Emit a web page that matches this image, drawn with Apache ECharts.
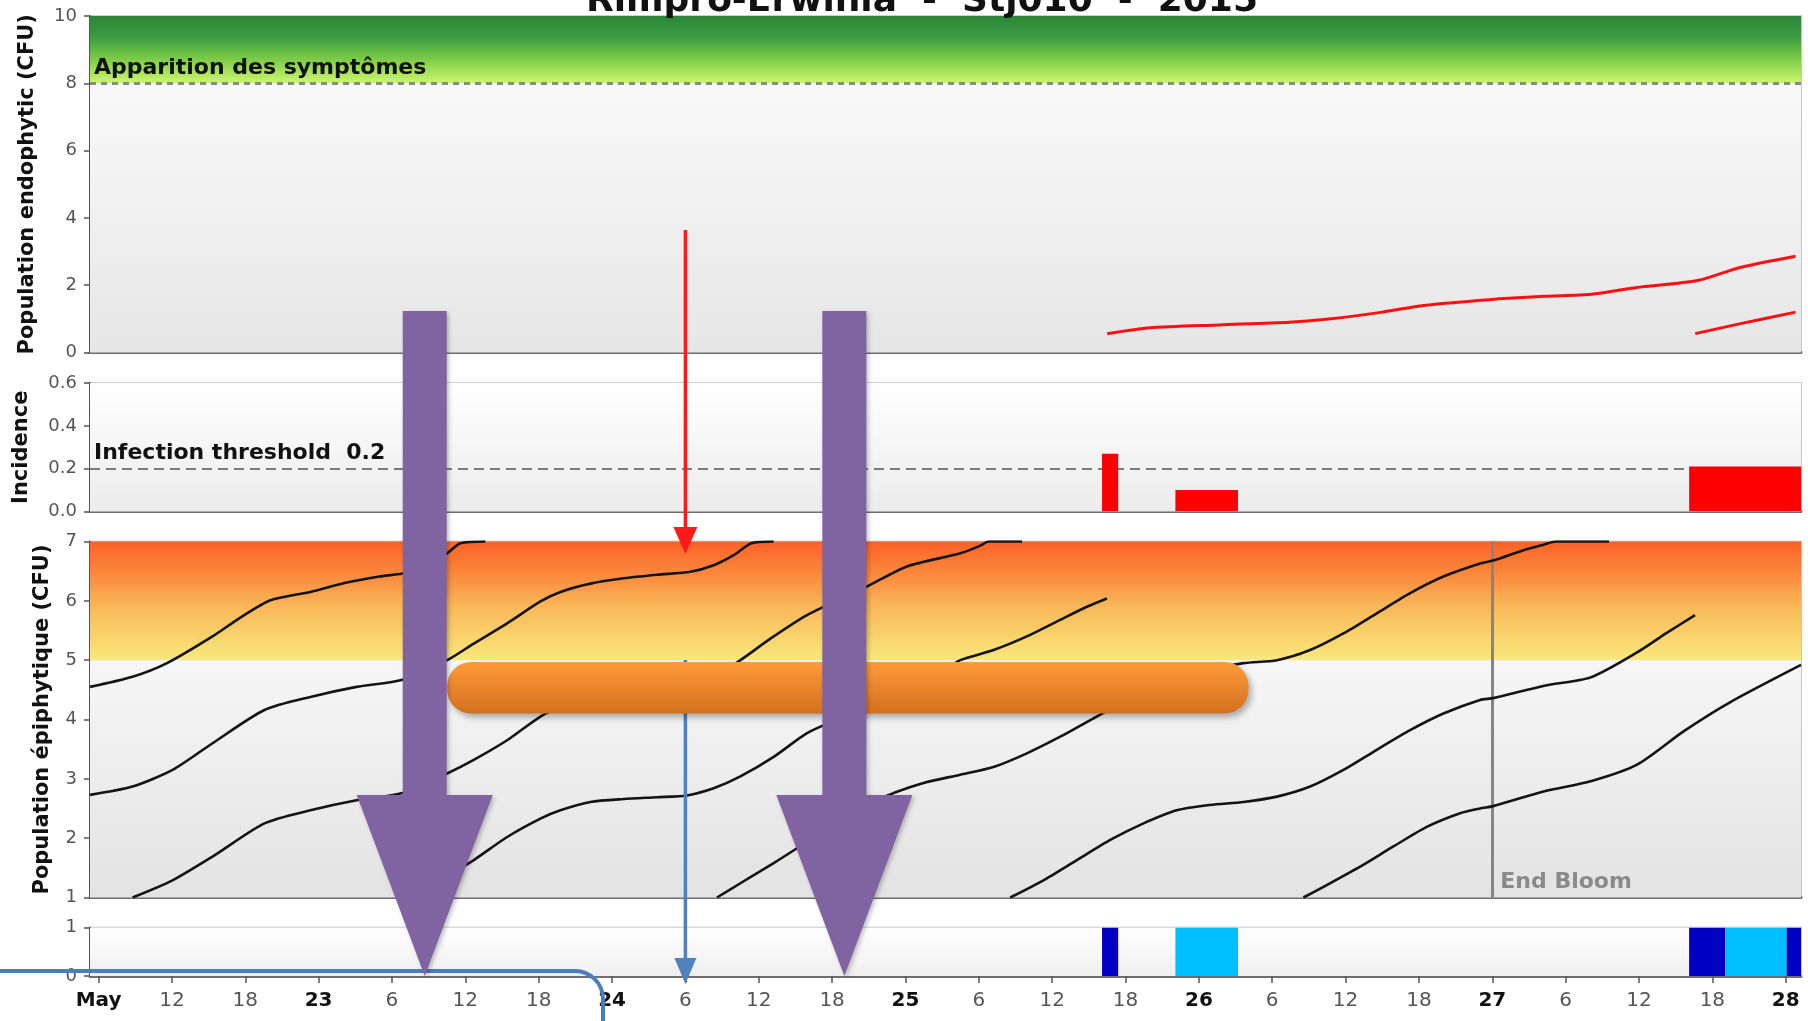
<!DOCTYPE html>
<html><head><meta charset="utf-8">
<script src="https://cdn.jsdelivr.net/npm/echarts@6/dist/echarts.min.js"></script>
<style>html,body{margin:0;padding:0;background:#fff;overflow:hidden}#c{width:1808px;height:1021px}</style>
</head><body><div id="c"></div>
<script>
// x values are hours counted from 22 May 00:00
const xMin = 5.3, xMax = 145.25;
const tickHours = [6,12,18,24,30,36,42,48,54,60,66,72,78,84,90,96,102,108,114,120,126,132,138,144];
const tickLabels = ['May','12','18','23','6','12','18','24','6','12','18','25','6','12','18','26','6','12','18','27','6','12','18','28'];

// Population endophytic (CFU)
const endoA = [[88.5,0.56],[92.0,0.735],[97.7,0.82],[103.4,0.90],[106.8,1.0],[111.0,1.2],[114.4,1.4],[119.7,1.57],[124.2,1.67],[128.1,1.73],[131.8,1.93],[136.8,2.14],[140.2,2.52],[144.8,2.86]];
const endoB = [[136.6,0.56],[140.2,0.85],[144.8,1.2]];

// Incidence bars: [start hour, end hour, value]
const incidenceBars = [[88.08,89.4,0.27],[94.08,99.2,0.10],[136.1,145.25,0.21]];

// Population épiphytique (CFU) curves
const epiA = [[5.3,4.55],[8.78,4.72],[11.6,4.95],[15.32,5.40],[17.69,5.73],[20.06,6.01],[23.33,6.15],[26.11,6.30],[28.98,6.41],[30.86,6.46],[32.6,6.58],[34.51,6.80],[35.6,6.97],[37.64,7.0]];
const epiB = [[5.3,2.73],[8.78,2.87],[12.05,3.15],[15.32,3.60],[19.57,4.16],[23.33,4.38],[27.1,4.55],[30.86,4.67],[34.51,5.0],[36.69,5.28],[39.42,5.62],[42.14,5.99],[43.78,6.15],[46.23,6.29],[48.95,6.38],[51.68,6.44],[54.41,6.49],[56.31,6.60],[57.95,6.77],[59.4,6.97],[61.22,7.0]];
const epiC = [[8.78,1.0],[12.05,1.29],[15.32,1.69],[19.57,2.25],[23.33,2.47],[27.1,2.64],[30.86,2.76],[34.51,3.09],[36.69,3.32],[39.42,3.65],[42.14,4.05],[43.78,4.2],[46.23,4.32],[48.95,4.4],[51.68,4.46],[54.13,4.52],[56.31,4.7],[58.5,5.0],[61.22,5.40],[63.95,5.76],[68.85,6.24],[72.12,6.58],[76.48,6.8],[78.12,6.93],[78.8,7.0],[81.53,7.0]];
const epiD = [[32.6,1.0],[34.51,1.35],[36.69,1.63],[39.42,2.02],[42.14,2.33],[43.78,2.47],[46.23,2.61],[48.95,2.66],[51.68,2.69],[54.13,2.72],[56.31,2.84],[58.5,3.04],[61.22,3.37],[63.95,3.77],[66.4,4.0],[68.85,4.22],[72.12,4.5],[74.5,4.75],[76.48,5.0],[79.2,5.17],[81.93,5.40],[84.66,5.68],[86.84,5.90],[88.48,6.04]];
const epiE = [[56.58,1.0],[58.5,1.24],[61.22,1.58],[63.13,1.83],[65.5,2.15],[68.0,2.5],[71.03,2.76],[73.48,2.93],[76.48,3.07],[79.2,3.20],[81.93,3.43],[84.66,3.71],[87.38,4.02],[89.0,4.2],[91.5,4.45],[94.2,4.68],[96.9,4.84],[99.65,4.95],[102.38,5.0],[105.1,5.17],[107.82,5.45],[110.55,5.79],[113.28,6.13],[116.0,6.41],[119.0,6.63],[120.08,6.68],[122.5,6.85],[124.26,6.95],[125.2,7.0],[129.55,7.0]];
const epiF = [[80.57,1.0],[83.29,1.29],[86.02,1.63],[88.75,1.97],[91.47,2.25],[94.19,2.47],[96.92,2.56],[99.65,2.61],[102.38,2.70],[105.1,2.87],[107.82,3.15],[110.55,3.49],[113.28,3.82],[116.0,4.10],[119.0,4.33],[120.08,4.36],[124.26,4.57],[128.05,4.71],[131.84,5.13],[134.2,5.45],[136.58,5.76]];
const epiG = [[104.55,1.0],[106.46,1.21],[109.19,1.52],[111.91,1.86],[114.64,2.19],[117.37,2.42],[119.0,2.50],[120.08,2.54],[124.26,2.79],[128.05,2.96],[131.84,3.24],[135.64,3.80],[139.44,4.29],[145.25,4.92]];
const epiCurves = [epiA, epiB, epiC, epiD, epiE, epiF, epiG];

// bottom strip: [start hour, end hour, height, kind (0 dark, 1 light)]
const wetnessBars = [[88.08,89.4,1,0],[94.08,99.2,1,1],[136.1,139.05,1,0],[139.05,144.07,1,1],[144.07,145.25,1,0]];

const symptomLevel = 8, infectionThreshold = 0.2, criticalLevel = 5, endBloomHour = 120;
// annotation anchors (hours)
const markerHour = 54, purpleArrowHours = [32.68, 67.0], orangeBarHours = [34.51, 100.06];

const F = "'DejaVu Sans', Verdana, sans-serif";
const G = echarts.graphic.LinearGradient;
const chart = echarts.init(document.getElementById('c'), null, {renderer:'canvas'});

const grids = [
  {left:90, right:7, top:16, height:336.5},
  {left:90, right:7, top:383, height:128.5},
  {left:90, right:7, top:541.5, height:356},
  {left:90, right:7, top:927.5, height:48.5}
].map(g => Object.assign(g, {show:true, borderColor:'#b4b4b4', borderWidth:1.5, containLabel:false}));

const xAxes = [0,1,2,3].map(i => ({
  type:'value', gridIndex:i, min:xMin, max:xMax,
  axisLine:{show:true, onZero:false, lineStyle:{color:'#6e6e6e', width:3}},
  splitLine:{show:false},
  axisTick: i===3 ? {show:true, customValues:tickHours, length:7, lineStyle:{color:'#555', width:1.5}} : {show:false},
  axisLabel: i===3 ? {
    show:true, customValues:tickHours, margin:15,
    formatter: v => { const k = tickHours.indexOf(Math.round(v)); if (k<0) return ''; const t = tickLabels[k]; return (k===0 || tickHours[k]%24===0) ? '{d|'+t+'}' : '{h|'+t+'}'; },
    rich:{ d:{fontFamily:F, fontWeight:'bold', fontSize:20, color:'#111'}, h:{fontFamily:F, fontSize:20, color:'#555'} }
  } : {show:false}
}));

const yBase = (i, min, max, interval, name, gap, fmt) => ({
  type:'value', gridIndex:i, min, max, interval,
  name, nameLocation:'middle', nameGap:gap, nameRotate:90,
  nameTextStyle:{fontFamily:F, fontWeight:'bold', fontSize:21, color:'#111'},
  axisLine:{show:true, lineStyle:{color:'#555', width:2}},
  axisTick:{show:true, length:6, lineStyle:{color:'#555', width:1.5}},
  axisLabel:{fontFamily:F, fontSize:18, color:'#555', margin:13, formatter:fmt},
  splitLine:{show:i!==3, lineStyle:{color:'#d2d2d2', width:1.5}}
});
const yAxes = [
  yBase(0, 0, 10, 2, 'Population endophytic (CFU)', 52),
  yBase(1, 0, 0.6, 0.2, 'Incidence', 58, v => v.toFixed(1)),
  yBase(2, 1, 7, 1, 'Population épiphytique (CFU)', 37),
  yBase(3, 0, 1, 1, '', 10)
];

const bg = (i, areas) => ({
  type:'line', xAxisIndex:i, yAxisIndex:i, data:[], z:-1, silent:true,
  markArea:{silent:true, data: areas.map(a => [{xAxis:xMin, yAxis:a[0], itemStyle:{color:a[2]}}, {xAxis:xMax, yAxis:a[1]}])}
});
const vgrad = stops => new G(0,0,0,1, stops.map(s => ({offset:s[0], color:s[1]})));

const labelStyle = {fontFamily:F, fontWeight:'bold', fontSize:22, color:'#111'};

const series = [
  bg(0, [[10, symptomLevel, vgrad([[0,'#2c8637'],[0.3,'#3a9a40'],[0.65,'#7fcc4a'],[1,'#cdf76c']])],
         [symptomLevel, 0, vgrad([[0,'#f9f9f9'],[1,'#e6e6e6']])]]),
  bg(1, [[0.6, 0, vgrad([[0,'#ffffff'],[1,'#ececec']])]]),
  bg(2, [[7, criticalLevel, vgrad([[0,'#fc6127'],[0.3,'#fa8d40'],[0.55,'#f9b85a'],[1,'#f9e87c']])],
         [criticalLevel, 1, vgrad([[0,'#f6f6f6'],[1,'#e3e3e3']])]]),
  bg(3, [[1, 0, vgrad([[0,'#ffffff'],[1,'#efefef']])]]),
  // thresholds
  {type:'line', xAxisIndex:0, yAxisIndex:0, data:[], z:3, markLine:{silent:true, symbol:'none',
    lineStyle:{color:'#8a8a8a', type:[6,5], width:3},
    label:Object.assign({show:true, position:'insideStartTop', formatter:'Apparition des symptômes', distance:4}, labelStyle),
    data:[{yAxis:symptomLevel}]}},
  {type:'line', xAxisIndex:1, yAxisIndex:1, data:[], z:8, markLine:{silent:true, symbol:'none',
    lineStyle:{color:'#7a7a7a', type:[10,6], width:2},
    label:Object.assign({show:true, position:'insideStartTop', formatter:'Infection threshold  0.2', distance:4}, labelStyle),
    data:[{yAxis:infectionThreshold}]}},
  {type:'line', xAxisIndex:2, yAxisIndex:2, data:[], z:3, markLine:{silent:true, symbol:'none',
    lineStyle:{opacity:0},
    label:Object.assign({show:true, position:'insideStartTop', formatter:'Niveau critique', distance:3}, labelStyle),
    data:[{yAxis:criticalLevel}]}},
  {type:'line', xAxisIndex:2, yAxisIndex:2, data:[], z:4, markLine:{silent:true, symbol:'none',
    lineStyle:{color:'#858585', type:'solid', width:3}, label:{show:false},
    data:[{xAxis:endBloomHour}]}},
  // endophytic
  ...[endoA, endoB].map(d => ({type:'line', xAxisIndex:0, yAxisIndex:0, data:d, smooth:0.25, showSymbol:false, z:5,
    lineStyle:{color:'#ff1010', width:3}})),
  // incidence
  {type:'custom', xAxisIndex:1, yAxisIndex:1, data:incidenceBars, z:5, clip:true, encode:{x:[0,1], y:2},
    renderItem:(p, api) => { const a = api.coord([api.value(0), api.value(2)]), b = api.coord([api.value(1), 0]);
      return {type:'rect', shape:{x:a[0], y:a[1], width:b[0]-a[0], height:b[1]-a[1]}, style:{fill:'#ff0000'}}; }},
  // epiphytic
  ...epiCurves.map(d => ({type:'line', xAxisIndex:2, yAxisIndex:2, data:d, smooth:0.25, showSymbol:false, z:5,
    lineStyle:{color:'#141414', width:2.6}})),
  // bottom strip
  {type:'custom', xAxisIndex:3, yAxisIndex:3, data:wetnessBars, z:5, clip:true, encode:{x:[0,1], y:2},
    renderItem:(p, api) => { const a = api.coord([api.value(0), api.value(2)]), b = api.coord([api.value(1), 0]);
      return {type:'rect', shape:{x:a[0], y:a[1], width:b[0]-a[0], height:b[1]-a[1]}, style:{fill: api.value(3)===0 ? '#0000c4' : '#00bfff'}}; }}
];

chart.setOption({animation:false, backgroundColor:'#fff', grid:grids, xAxis:xAxes, yAxis:yAxes, series});

const px = h => chart.convertToPixel({xAxisIndex:2}, h);
const mx = px(markerHour);
const ob0 = px(orangeBarHours[0]), ob1 = px(orangeBarHours[1]);
const obTop = chart.convertToPixel({yAxisIndex:2}, 4.97), obBot = chart.convertToPixel({yAxisIndex:2}, 4.1);
const graphics = [];
// title (cropped at the top of the picture)
graphics.push({type:'text', x:922, y:2, z:200, style:{text:'Rimpro-Erwinia  -  Stj010  -  2015', font:"bold 36px 'DejaVu Sans'", fill:'#111', align:'center', verticalAlign:'middle'}});
// End Bloom label
graphics.push({type:'text', x:px(endBloomHour)+8, y:882, z:50, style:{text:'End Bloom', font:"bold 22px 'DejaVu Sans'", fill:'#8a8a8a', align:'left', verticalAlign:'middle'}});
// blue arrow
graphics.push({type:'line', z:100, shape:{x1:mx, y1:660, x2:mx, y2:962}, style:{stroke:'#4f81bd', lineWidth:3.5}});
graphics.push({type:'polygon', z:100, shape:{points:[[mx-11,958],[mx+11,958],[mx,984]]}, style:{fill:'#4f81bd'}});
// orange bar
graphics.push({type:'rect', z:101, shape:{x:ob0, y:obTop, width:ob1-ob0, height:obBot-obTop, r:24},
  style:{fill:vgrad([[0,'#ff9b3b'],[1,'#d3701f']]), shadowBlur:6, shadowOffsetX:3, shadowOffsetY:4, shadowColor:'rgba(0,0,0,0.3)'}});
// blue rounded rectangle
graphics.push({type:'rect', z:102, shape:{x:-40, y:971, width:643, height:120, r:28}, style:{fill:null, stroke:'#4a7ebb', lineWidth:4}});
// purple arrows
purpleArrowHours.forEach(h => { const c = px(h);
  graphics.push({type:'polygon', z:103, shape:{points:[[c-22,311],[c+22,311],[c+22,795],[c+68,795],[c,976],[c-68,795],[c-22,795]]},
    style:{fill:'#8064a2', shadowBlur:4, shadowOffsetX:2, shadowOffsetY:2, shadowColor:'rgba(0,0,0,0.25)'}});
});
// red arrow
graphics.push({type:'line', z:104, shape:{x1:mx, y1:230, x2:mx, y2:530}, style:{stroke:'#ff1a1a', lineWidth:3.5}});
graphics.push({type:'polygon', z:104, shape:{points:[[mx-12,527],[mx+12,527],[mx,554]]}, style:{fill:'#ff1a1a'}});
chart.setOption({graphic:graphics});
</script></body></html>
